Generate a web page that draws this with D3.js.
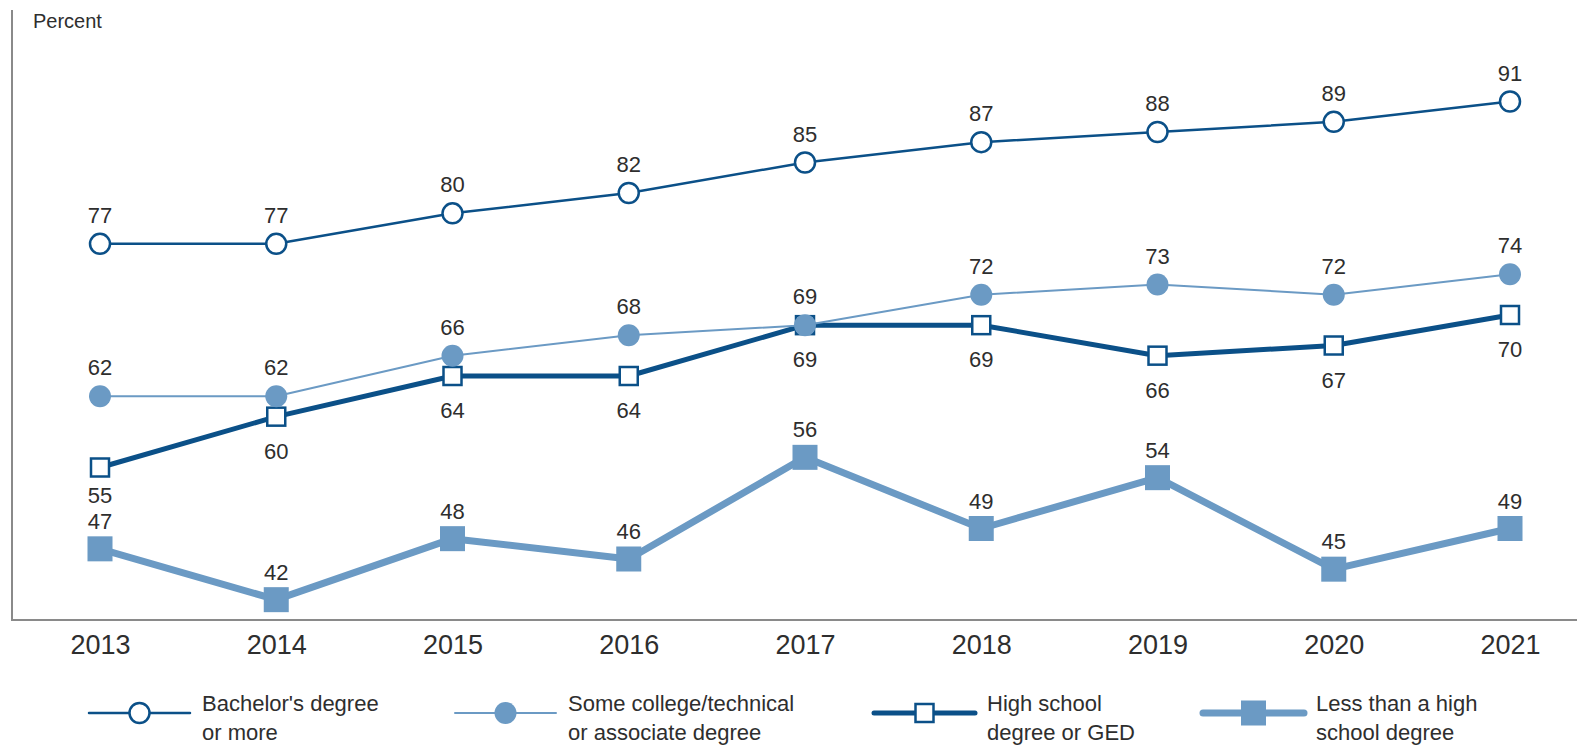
<!DOCTYPE html>
<html>
<head>
<meta charset="utf-8">
<script src="https://cdn.jsdelivr.net/npm/d3@7"></script>
<style>
  html, body { margin: 0; padding: 0; background: #fff; }
  svg { display: block; font-family: "Liberation Sans", Arial, sans-serif; }
</style>
</head>
<body>
<svg id="chart" width="1579" height="746"></svg>
<script>
// Share of adults (percent) by educational attainment, 2013–2021
const years = [2013, 2014, 2015, 2016, 2017, 2018, 2019, 2020, 2021];
const bachelors = [77, 77, 80, 82, 85, 87, 88, 89, 91];
const someCollege = [62, 62, 66, 68, 69, 72, 73, 72, 74];
const highSchool = [55, 60, 64, 64, 69, 69, 66, 67, 70];
const lessThanHS = [47, 42, 48, 46, 56, 49, 54, 45, 49];
const seriesNames = [
  ["Bachelor's degree", "or more"],
  ["Some college/technical", "or associate degree"],
  ["High school", "degree or GED"],
  ["Less than a high", "school degree"]
];

const dark = "#0b5088";
const light = "#6b9ac4";
const textColor = "#2e2e2e";

const svg = d3.select("#chart");

const x = d3.scalePoint().domain(years).range([100, 1510]);
const y = d3.scaleLinear().domain([40, 100]).range([620, 10]);

// Frame: left and bottom axis lines
const axisColor = "#8a8a8a";
svg.append("line").attr("x1", 12).attr("x2", 12).attr("y1", 10).attr("y2", 620)
  .attr("stroke", axisColor).attr("stroke-width", 2);

const xAxis = d3.axisBottom(x).tickSize(0).tickPadding(0).tickFormat(d3.format("d"));
const gx = svg.append("g").attr("transform", "translate(0,620)").call(xAxis);
gx.select(".domain").remove();
gx.selectAll("text")
  .attr("y", 34).attr("dy", 0)
  .attr("font-size", 27).attr("fill", textColor)
  .attr("font-family", "'Liberation Sans', Arial, sans-serif");
svg.append("line").attr("x1", 11).attr("x2", 1577).attr("y1", 620).attr("y2", 620)
  .attr("stroke", axisColor).attr("stroke-width", 2);

svg.append("text").attr("x", 33).attr("y", 28)
  .attr("font-size", 20).attr("fill", textColor).text("Percent");

const series = [
  { values: bachelors, color: dark, width: 2.5, marker: "openCircle", labelDy: -21 },
  { values: someCollege, color: light, width: 2, marker: "filledCircle", labelDy: -21 },
  { values: highSchool, color: dark, width: 5, marker: "openSquare", labelDy: 42,
    // the first label sits a little higher so it clears the label beneath it
    nudge: { 2013: -7 } },
  { values: lessThanHS, color: light, width: 7, marker: "filledSquare", labelDy: -20 }
];

function drawMarker(g, type, color) {
  if (type === "openCircle") {
    g.append("circle").attr("r", 10).attr("fill", "#fff").attr("stroke", color).attr("stroke-width", 2.5);
  } else if (type === "filledCircle") {
    g.append("circle").attr("r", 11).attr("fill", color);
  } else if (type === "openSquare") {
    g.append("rect").attr("x", -9).attr("y", -9).attr("width", 18).attr("height", 18)
      .attr("fill", "#fff").attr("stroke", color).attr("stroke-width", 2.5);
  } else {
    g.append("rect").attr("x", -12.5).attr("y", -12.5).attr("width", 25).attr("height", 25)
      .attr("fill", color);
  }
}

const line = d3.line().x((d, i) => x(years[i])).y(d => y(d));

// Lines first, then markers and value labels on top
const order = [3, 2, 1, 0];
order.forEach(k => {
  const s = series[k];
  svg.append("path").datum(s.values)
    .attr("fill", "none").attr("stroke", s.color)
    .attr("stroke-width", s.width).attr("stroke-linejoin", "round")
    .attr("d", line);
});
order.forEach(k => {
  const s = series[k];
  s.values.forEach((v, i) => {
    const g = svg.append("g").attr("transform", `translate(${x(years[i])},${y(v)})`);
    drawMarker(g, s.marker, s.color);
    const extra = (s.nudge && s.nudge[years[i]]) || 0;
    svg.append("text")
      .attr("x", x(years[i])).attr("y", y(v) + s.labelDy + extra)
      .attr("text-anchor", "middle").attr("font-size", 22).attr("fill", textColor)
      .text(v);
  });
});

// Legend
const legendX = [89, 455, 874, 1203];
const legendY = 713;
series.forEach((s, k) => {
  const x0 = legendX[k];
  svg.append("line").attr("x1", x0).attr("x2", x0 + 101).attr("y1", legendY).attr("y2", legendY)
    .attr("stroke", s.color).attr("stroke-width", s.width).attr("stroke-linecap", "round");
  const g = svg.append("g").attr("transform", `translate(${x0 + 50.5},${legendY})`);
  drawMarker(g, s.marker, s.color);
  const t = svg.append("text").attr("x", x0 + 113).attr("y", 711)
    .attr("font-size", 22).attr("fill", textColor);
  seriesNames[k].forEach((ln, j) => {
    t.append("tspan").attr("x", x0 + 113).attr("dy", j === 0 ? 0 : 29).text(ln);
  });
});
</script>
</body>
</html>
